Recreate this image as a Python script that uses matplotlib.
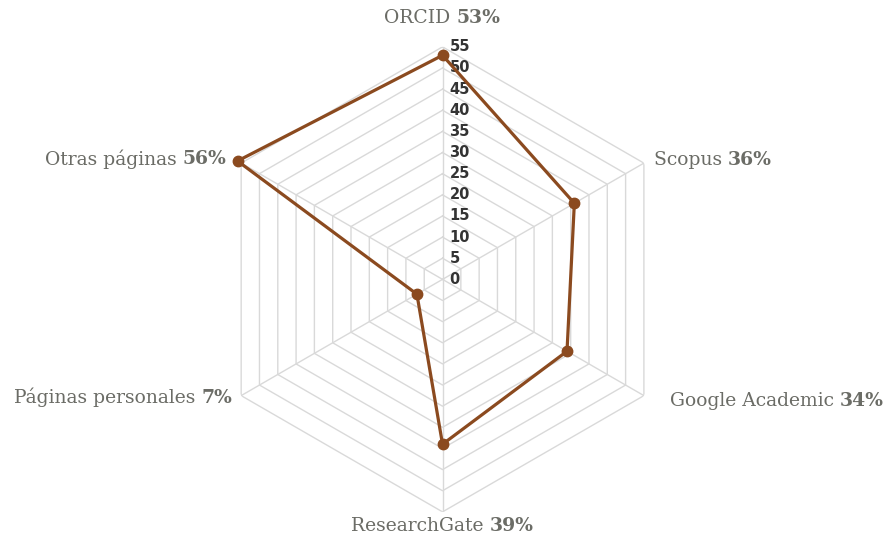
import numpy as np
import matplotlib.pyplot as plt

# data
categories = ['ORCID', 'Scopus', 'Google Academic', 'ResearchGate',
              'Páginas personales', 'Otras páginas']
values = [53, 36, 34, 39, 7, 56]
levels = list(range(0, 56, 5))

line_color = '#8b4a1f'
grid_color = '#d9d9d9'
label_color = '#6b6c66'
tick_color = '#333333'

fig = plt.figure(figsize=(8.88, 5.36), dpi=100)
ax = fig.add_axes([0.2365, 0.045, 0.5237, 0.8676], projection='polar')
ax.set_theta_offset(np.pi / 2)
ax.set_theta_direction(-1)
ax.set_ylim(0, 55)
ax.grid(False)
ax.spines['polar'].set_visible(False)
ax.set_xticks([])
ax.set_yticks([])
ax.patch.set_alpha(0)

n = len(categories)
theta = np.linspace(0, 2 * np.pi, n, endpoint=False)
theta_closed = np.append(theta, theta[0])

# hexagon grid
for lv in levels[1:]:
    ax.plot(theta_closed, [lv] * (n + 1), color=grid_color, lw=1, zorder=1)
for t in theta:
    ax.plot([t, t], [0, 55], color=grid_color, lw=1, zorder=1)

# tick labels along the top spoke
for lv in levels:
    ax.annotate(str(lv), (0, lv), xytext=(7, 0), textcoords='offset pixels',
                ha='left', va='center', fontsize=10.5, fontweight='bold',
                color=tick_color, family='DejaVu Sans', zorder=2)

# data line
vals_closed = values + values[:1]
ax.plot(theta_closed, vals_closed, color=line_color, lw=2.3, zorder=3,
        clip_on=False)
ax.plot(theta, values, 'o', color=line_color, ms=7.5, zorder=4, clip_on=False)

# category labels: name normal + value bold
fig.canvas.draw()
renderer = fig.canvas.get_renderer()
label_pos = [('center', 0, 29), ('left', 10, 3), ('left', 26, -5),
             ('center', 0, -14), ('right', -9, -2), ('right', -15, 4)]
for t, name, v, (ha, dx, dy) in zip(theta, categories, values, label_pos):
    kw = dict(textcoords='offset pixels', va='center', ha='left',
              fontsize=13.5, color=label_color, family='DejaVu Serif',
              annotation_clip=False)
    t1 = ax.annotate(name + ' ', (t, 55), xytext=(0, 0), **kw)
    t2 = ax.annotate(f'{v}%', (t, 55), xytext=(0, 0), fontweight='bold', **kw)
    w1 = t1.get_window_extent(renderer).width
    w2 = t2.get_window_extent(renderer).width
    total = w1 + w2
    if ha == 'left':
        start = dx
    elif ha == 'right':
        start = dx - total
    else:
        start = dx - total / 2
    t1.xyann = (start, dy)
    t2.xyann = (start + w1, dy)

fig.savefig('out.png', dpi=100)
